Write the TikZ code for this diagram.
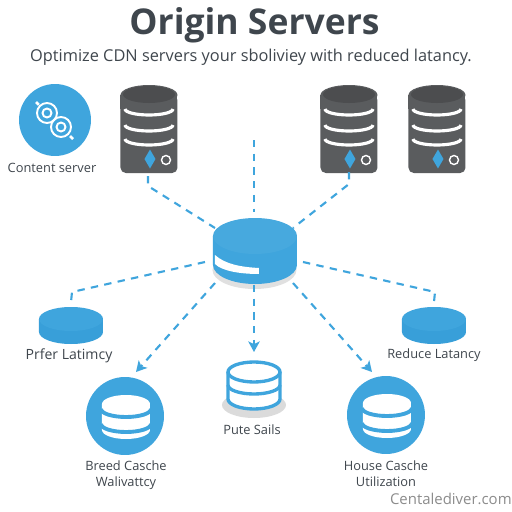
\documentclass[tikz,border=0pt]{standalone}
\usepackage{fontspec}
\setmainfont{Open Sans}
\usetikzlibrary{arrows.meta}
\definecolor{cdnblue}{HTML}{3FA5DD}
\definecolor{cdndark}{HTML}{389FD9}
\definecolor{srvgrey}{HTML}{5A5C5E}
\definecolor{srvtop}{HTML}{4C4D4F}
\definecolor{inkgrey}{HTML}{3F464D}
\tikzset{
  link/.style={cdnblue,line width=1.2pt,dash pattern=on 4.2pt off 3.6pt},
  linkarrow/.style={link,-{Stealth[length=6pt,width=6.5pt,inset=1.5pt]}},
  caption/.style={text=inkgrey,font=\fontsize{7.3}{9.2}\selectfont,align=center,inner sep=0pt},
  blueball/.style={circle,fill=cdnblue,minimum size=1.56cm,inner sep=0pt},
  serverpic/.pic={
    \fill[srvgrey,rounded corners=3] (-28.5,-44) rectangle (28.5,34);
    \fill[srvgrey] (-28.5,20) rectangle (28.5,34);
    \fill[srvgrey] (0,34) ellipse [x radius=28.5,y radius=10];
    \fill[srvtop] (0,34.5) ellipse [x radius=26,y radius=8.5];
    \foreach \yy in {20,4,-10} {
      \draw[white,line width=1.8pt] (-24,\yy) arc [start angle=180,end angle=360,x radius=24,y radius=6];
    }
    \fill[cdnblue] (1,-20.5) -- (6.5,-30) -- (1,-39.5) -- (-4.5,-30) -- cycle;
    \draw[white,line width=0.8pt] (17,-31) circle (4.5);
    \coordinate (-foot) at (-1,-47);
  },
  stackpic/.pic={
    \fill[white] (-24,13) -- (-24,-13) arc [start angle=180,end angle=360,x radius=24,y radius=9] -- (24,13) arc [start angle=0,end angle=180,x radius=24,y radius=9] -- cycle;
    \foreach \yy in {8,-7} {
      \draw[cdnblue,line width=2.2pt] (-25,\yy) arc [start angle=180,end angle=360,x radius=25,y radius=8];
    }
  },
}
\begin{document}
\begin{tikzpicture}[x=0.02cm,y=0.02cm]
\useasboundingbox (0,0) rectangle (512,512);
\fill[white] (0,0) rectangle (512,512);
% heading
\node[text=inkgrey,font=\fontsize{20.2}{24}\selectfont\bfseries,inner sep=0pt] (heading) at (254.5,487) {Origin Servers};
\node[text=inkgrey,font=\fontsize{9.3}{12}\selectfont,inner sep=0pt] (subheading) at (251,455) {Optimize CDN servers your sboliviey with reduced latancy.};
% content server
\node[blueball,minimum size=1.44cm] (contentball) at (55,392) {};
\foreach \cx/\cy/\tx/\ty in {47/399/36/410,61/385/73/373} {
  \draw[white,line width=1.1pt] (\cx,\cy) circle (10);
  \draw[white,line width=1.1pt] (\cx,\cy) circle (4.5);
  \draw[white,line width=1.5pt] (\cx,\cy) ++({(\tx-\cx)*0.75},{(\ty-\cy)*0.75}) -- (\tx,\ty);
}
\node[caption] (contentlabel) at (52,344) {Content server};
% servers
\pic (srvA) at (149,383) {serverpic};
\pic (srvB) at (349,383) {serverpic};
\pic (srvC) at (437,383) {serverpic};
% hub
\fill[black!12] (254.5,242) ellipse [x radius=42,y radius=19];
\fill[cdnblue] (213,276) -- (213,247) arc [start angle=180,end angle=360,x radius=42,y radius=19] -- (297,276) -- cycle;
\fill[cdnblue!96!white] (255,276) ellipse [x radius=42,y radius=18];
\fill[white] (215,257) .. controls (225,248) and (240,245) .. (259,244) -- (259,238) .. controls (240,238) and (222,241) .. (215,248) -- cycle;
\coordinate (hubN) at (254,300);
\coordinate (hubNW) at (215,284);
\coordinate (hubNE) at (293,284);
\coordinate (hubW) at (205,250);
\coordinate (hubE) at (303,250);
\coordinate (hubSW) at (215,229);
\coordinate (hubS) at (254,227);
\coordinate (hubSE) at (293,229);
% side disks
\foreach \cx/\nm in {71/diskL,434/diskR} {
  \fill[cdndark] (\cx-32,193) -- (\cx-32,180) arc [start angle=180,end angle=360,x radius=32,y radius=12] -- (\cx+32,193) -- cycle;
  \fill[cdnblue] (\cx,193) ellipse [x radius=32,y radius=12];
  \coordinate (\nm) at (\cx,210);
}
\node[caption,font=\fontsize{8}{9.2}\selectfont] (preferlabel) at (69,156) {Prfer Latimcy};
\node[caption] (reducelabel) at (434,157) {Reduce Latancy};
% lower icons
\node[blueball] (breedball) at (125,96) {};
\pic (breedstack) at (126,95) {stackpic};
\node[caption] (breedlabel) at (126,37) {Breed Casche\\Walivattcy};
\node[blueball] (houseball) at (386,97) {};
\pic (housestack) at (387,96) {stackpic};
\node[caption] (houselabel) at (386,38) {House Casche\\Utilization};
\fill[black!14] (254,107) ellipse [x radius=32,y radius=13];
\fill[white] (228,140) -- (228,113) arc [start angle=180,end angle=360,x radius=26,y radius=10] -- (280,140) -- cycle;
\draw[cdnblue,line width=1.9pt] (228,140) -- (228,113) arc [start angle=180,end angle=360,x radius=26,y radius=10] -- (280,140);
\draw[cdnblue,line width=1.9pt] (254,140) ellipse [x radius=26,y radius=10];
\draw[cdnblue,line width=1.9pt] (228,127) arc [start angle=180,end angle=360,x radius=26,y radius=9];
\node[caption] (sailslabel) at (252,82) {Pute Sails};
% footer
\node[text=black!45,font=\fontsize{8.5}{10}\selectfont,inner sep=0pt,anchor=east] (footer) at (512,13) {Centalediver.com};
% connectors
\draw[link] (srvA-foot) -- ++(0,-10) -- (hubNW);
\draw[link] (srvB-foot) ++(1,4) -- ++(0,-12) -- (hubNE);
\draw[link] (254,372) -- (hubN);
\draw[link] (hubW) -- (72,220) -- (diskL);
\draw[link] (hubE) -- (435,220) -- (diskR);
\draw[linkarrow] (hubSW) -- (136,140);
\draw[linkarrow] (hubS) -- (254,160);
\draw[linkarrow] (hubSE) -- (372,140);
\end{tikzpicture}
\end{document}
